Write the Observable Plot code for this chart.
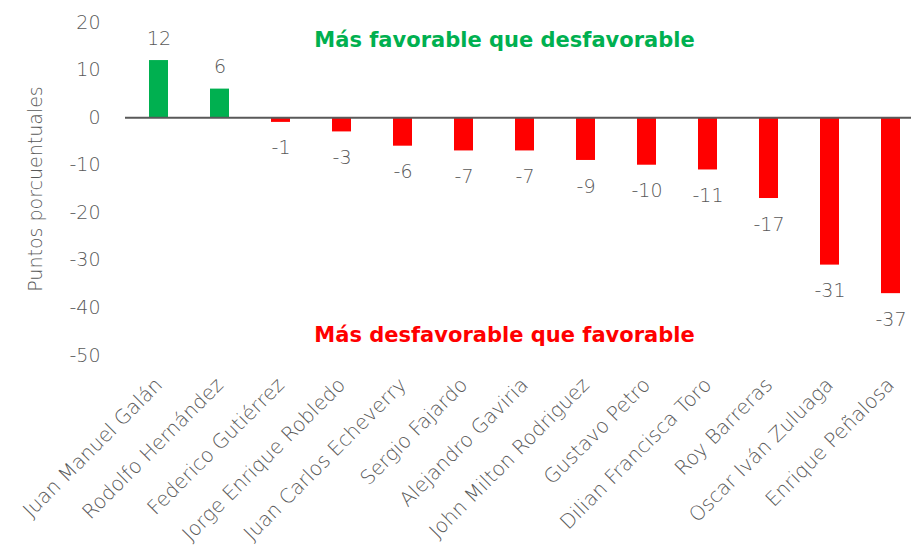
<!DOCTYPE html>
<html>
<head>
<meta charset="utf-8">
<script src="https://cdn.jsdelivr.net/npm/d3@7"></script>
<script src="https://cdn.jsdelivr.net/npm/@observablehq/plot@0.6"></script>
<style>
  html, body { margin: 0; padding: 0; background: #fff; }
</style>
</head>
<body>
<div id="chart"></div>
<script>
const names = [
  "Juan Manuel Galán", "Rodolfo Hernández", "Federico Gutiérrez", "Jorge Enrique Robledo",
  "Juan Carlos Echeverry", "Sergio Fajardo", "Alejandro Gaviria", "John Milton Rodriguez",
  "Gustavo Petro", "Dilian Francisca Toro", "Roy Barreras", "Oscar Iván Zuluaga", "Enrique Peñalosa"
];
const values = [12, 6, -1, -3, -6, -7, -7, -9, -10, -11, -17, -31, -37];
const yTicks = [20, 10, 0, -10, -20, -30, -40, -50];
const yLabel = "Puntos porcuentuales";
const titlePos = "Más favorable que desfavorable";
const titleNeg = "Más desfavorable que favorable";

const GREEN = "#00B050", RED = "#FF0000", GRAY = "#595959";
const data = names.map((n, i) => ({name: n, value: values[i]}));
const font = "'DejaVu Sans', sans-serif";

const chart = Plot.plot({
  width: 911,
  height: 549,
  marginTop: 22,
  marginBottom: 194,
  marginLeft: 125,
  marginRight: 0,
  style: {fontFamily: font, fontSize: "17px", color: GRAY, background: "#fff"},
  x: {domain: names, range: [125, 924], paddingInner: 0.69, paddingOuter: 0.35, align: 0.5},
  y: {domain: [-50, 20]},
  color: {type: "identity"},
  marks: [
    Plot.barY(data, {x: "name", y: "value", fill: d => d.value >= 0 ? GREEN : RED}),
    Plot.ruleY([0], {stroke: GRAY, strokeWidth: 2}),
    Plot.axisY({ticks: yTicks, tickSize: 0, tickPadding: 25, fontSize: 19, fill: GRAY,
      tickFormat: d => String(d), fontWeight: 300, label: null}),
    Plot.text([yLabel], {frameAnchor: "left", textAnchor: "middle", dx: -90, rotate: -90, text: d => d,
      fontSize: 19, fontWeight: 300, fill: GRAY}),
    Plot.axisX({tickSize: 0, tickPadding: 26, tickRotate: -45, fontSize: 20, fontWeight: 300,
      fill: GRAY, label: null}),
    Plot.text(data.filter(d => d.value >= 0), {x: "name", y: "value", text: d => String(d.value),
      dy: -22, fontSize: 19, fontWeight: 300, fill: GRAY}),
    Plot.text(data.filter(d => d.value < 0), {x: "name", y: "value", text: d => String(d.value),
      dy: 26, fontSize: 19, fontWeight: 300, fill: GRAY}),
    Plot.text([titlePos], {frameAnchor: "top", dx: -14, dy: 10, text: d => d, fill: GREEN,
      fontWeight: "bold", fontSize: 21}),
    Plot.text([titleNeg], {frameAnchor: "bottom", dx: -14, dy: -14, text: d => d, fill: RED,
      fontWeight: "bold", fontSize: 21})
  ]
});
document.getElementById("chart").appendChild(chart);
</script>
</body>
</html>
